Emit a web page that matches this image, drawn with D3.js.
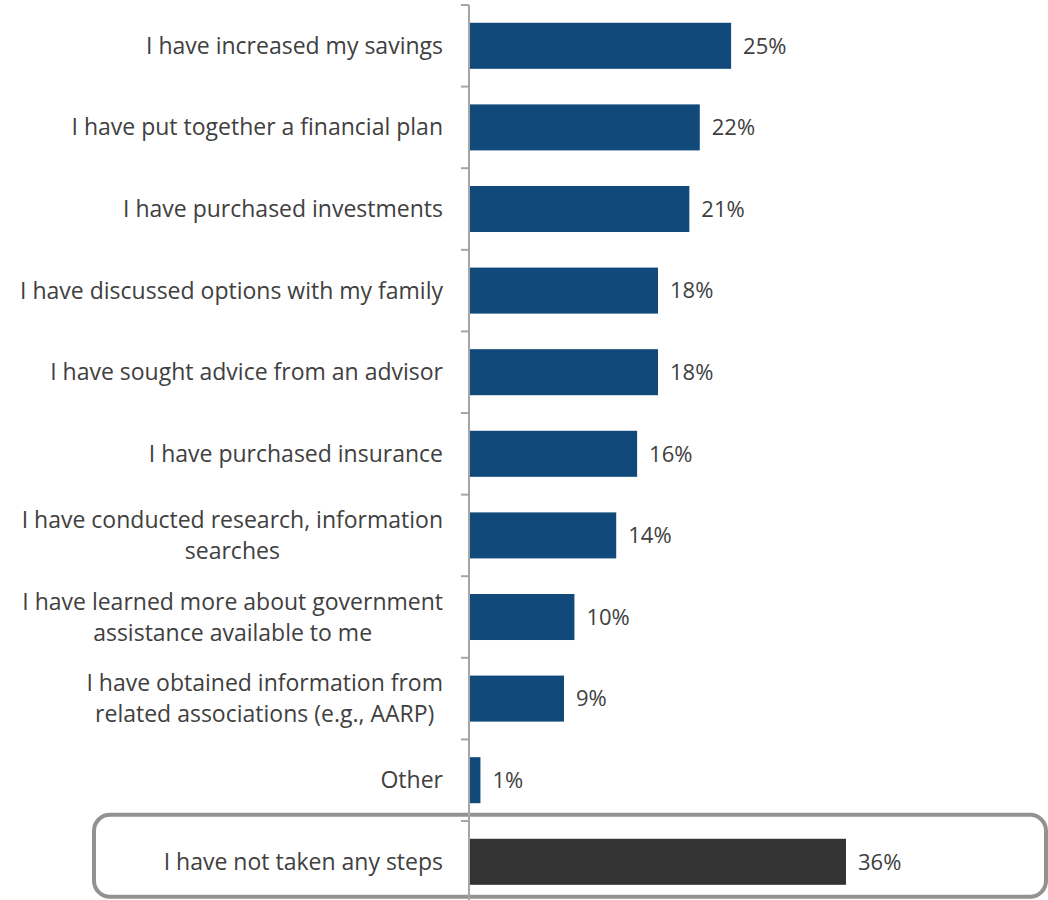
<!DOCTYPE html>
<html><head><meta charset="utf-8">
<script src="https://cdn.jsdelivr.net/npm/d3@7"></script>
<style>body{margin:0;background:#fff}svg{display:block}</style>
</head><body>
<svg id="chart" width="1048" height="900"></svg>
<script>
const categories = [
  "I have increased my savings",
  "I have put together a financial plan",
  "I have purchased investments",
  "I have discussed options with my family",
  "I have sought advice from an advisor",
  "I have purchased insurance",
  "I have conducted research, information|searches",
  "I have learned more about government|assistance available to me",
  "I have obtained information from|related associations (e.g., AARP)",
  "Other",
  "I have not taken any steps"
];
const values = [25, 22, 21, 18, 18, 16, 14, 10, 9, 1, 36];
const valueLabels = ["25%","22%","21%","18%","18%","16%","14%","10%","9%","1%","36%"];
const highlighted = ["I have not taken any steps"];

const svg = d3.select("#chart");
const font = "'Open Sans', sans-serif";
const fs = 23;
const x0 = 469;
const x = d3.scaleLinear().domain([0, 36]).range([x0, x0 + 376]);
const y = d3.scaleBand().domain(categories).range([5, 5 + 11 * 81.6]).paddingInner(0.436).paddingOuter(0.218);

// highlight box
const hb = y(highlighted[0]);
svg.append("rect")
  .attr("x", 94).attr("y", hb - 24)
  .attr("width", 952).attr("height", 82)
  .attr("rx", 16).attr("ry", 16)
  .attr("fill", "none").attr("stroke", "#929292").attr("stroke-width", 4);

// axis line + ticks at band boundaries
const boundaries = d3.range(categories.length).map(i => y.range()[0] + i * y.step());
svg.append("line").attr("x1", x0).attr("x2", x0).attr("y1", 5).attr("y2", 900)
  .attr("stroke", "#a6a6a6").attr("stroke-width", 2);
svg.selectAll(".tick").data(boundaries).join("line")
  .attr("x1", x0 - 8).attr("x2", x0).attr("y1", d => d).attr("y2", d => d)
  .attr("stroke", "#a6a6a6").attr("stroke-width", 2);

// bars
svg.selectAll(".bar").data(categories).join("rect")
  .attr("x", x(0) + 1)
  .attr("y", d => y(d))
  .attr("width", (d, i) => x(values[i]) - x(0))
  .attr("height", y.bandwidth())
  .attr("fill", d => highlighted.includes(d) ? "#333333" : "#114a7a");

// value labels
svg.selectAll(".val").data(categories).join("text")
  .attr("x", (d, i) => x(values[i]) + 13)
  .attr("y", d => y(d) + y.bandwidth() / 2)
  .attr("dy", "0.35em")
  .attr("font-family", font).attr("font-size", 22).attr("fill", "#404040")
  .text((d, i) => valueLabels[i]);

// category labels
const lineH = 31;
categories.forEach(c => {
  const lines = c.split("|");
  const cy = y(c) + y.bandwidth() / 2;
  const g = svg.append("text")
    .attr("font-family", font).attr("font-size", fs).attr("fill", "#404040");
  if (lines.length === 1) {
    g.attr("x", 443).attr("y", cy).attr("dy", "0.35em").attr("text-anchor", "end").text(lines[0]);
  } else {
    g.attr("text-anchor", "middle");
    lines.forEach((l, k) => {
      g.append("tspan").attr("x", 0).attr("y", cy + (k - (lines.length - 1) / 2) * lineH)
        .attr("dy", "0.35em").text(l);
    });
    const maxW = d3.max(g.selectAll("tspan").nodes(), n => n.getComputedTextLength());
    g.selectAll("tspan").attr("x", 443 - maxW / 2);
  }
});
</script>
</body></html>
